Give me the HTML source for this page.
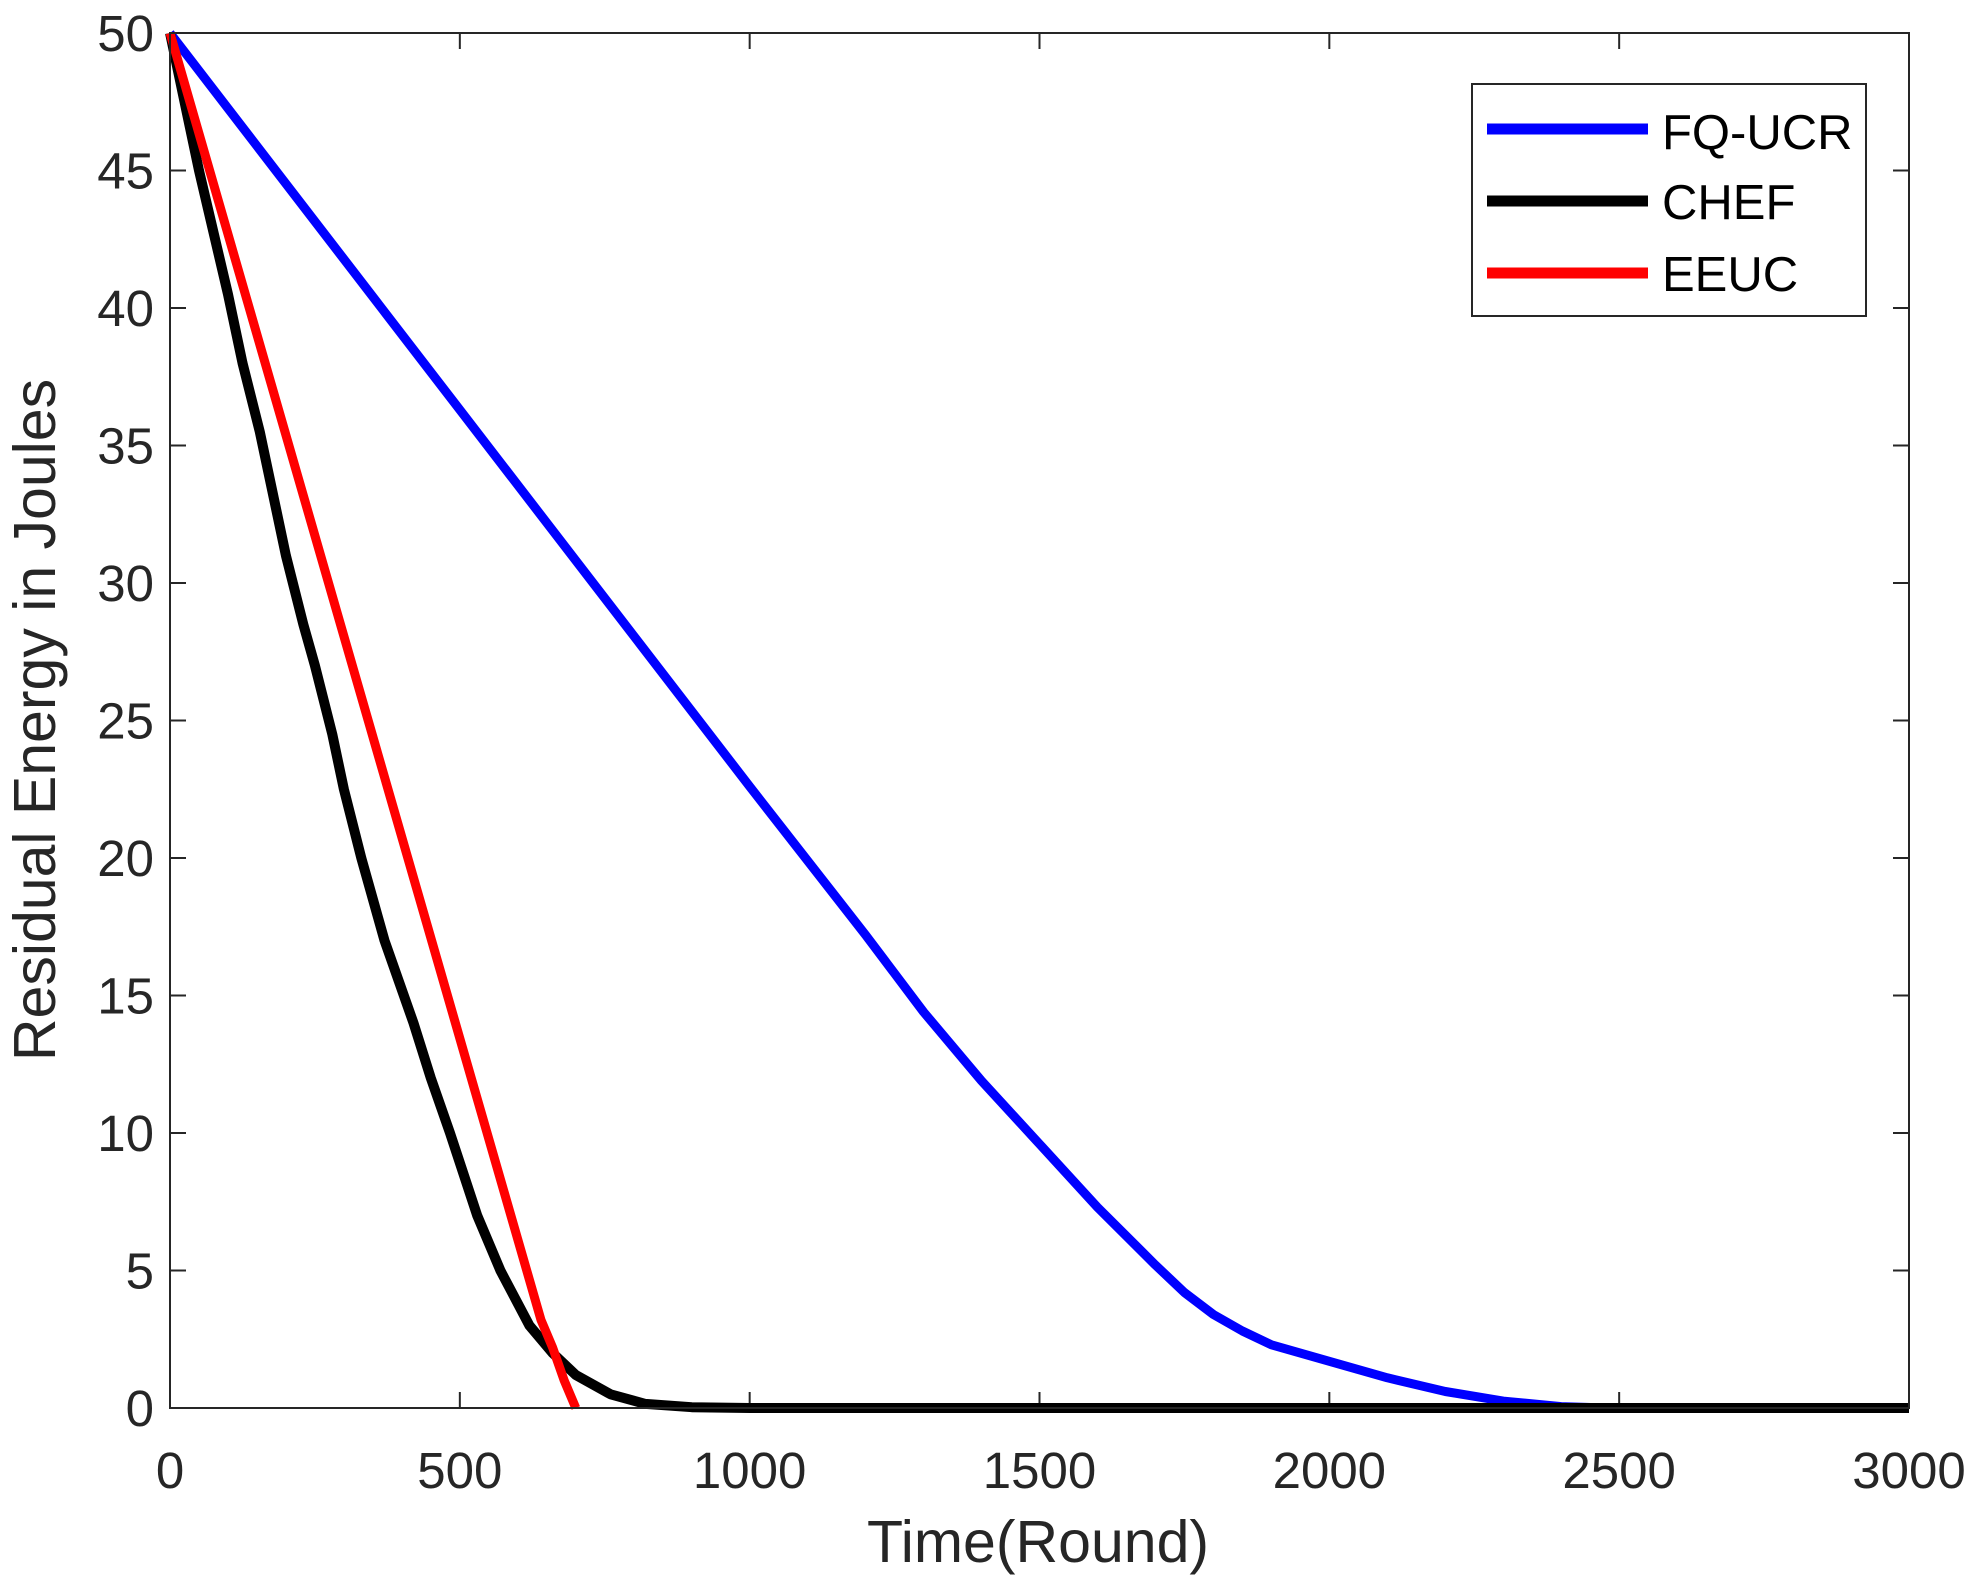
<!DOCTYPE html>
<html><head><meta charset="utf-8"><style>
html,body{margin:0;padding:0;background:#fff;}
svg{display:block;}
text{font-family:"Liberation Sans",Arial,sans-serif;fill:#262626;}
</style></head><body>
<svg width="1979" height="1584" viewBox="0 0 1979 1584" xmlns="http://www.w3.org/2000/svg">
<rect width="1979" height="1584" fill="#fff"/>
<g id="ticks" stroke="#262626" stroke-width="2"></g>
<g id="plot"></g>
<rect x="170" y="33" width="1739" height="1375" fill="none" stroke="#262626" stroke-width="2"/>
<g id="labels"></g>
<text x="1038" y="1562" font-size="59" text-anchor="middle">Time(Round)</text>
<text transform="translate(55,720) rotate(-90)" font-size="59" text-anchor="middle">Residual Energy in Joules</text>
<rect x="1472" y="84" width="394" height="232" fill="#fff" stroke="#262626" stroke-width="2"/>
<line x1="1487" y1="129" x2="1648" y2="129" stroke="#0000ff" stroke-width="11"/>
<line x1="1487" y1="201" x2="1648" y2="201" stroke="#000" stroke-width="11"/>
<line x1="1487" y1="273" x2="1648" y2="273" stroke="#ff0000" stroke-width="11"/>
<text x="1662" y="136" font-size="49" dominant-baseline="middle" style="fill:#000">FQ-UCR</text>
<text x="1662" y="206" font-size="49" dominant-baseline="middle" style="fill:#000">CHEF</text>
<text x="1662" y="278" font-size="49" dominant-baseline="middle" style="fill:#000">EEUC</text>
<script>
var L=170,R=1909,T=33,B=1408;
function X(t){return L+t/3000*(R-L);}
function Y(e){return B-e/50*(B-T);}
var ns="http://www.w3.org/2000/svg";
var tk=document.getElementById("ticks"),lb=document.getElementById("labels"),pl=document.getElementById("plot");
function el(p,n,a,txt){var e=document.createElementNS(ns,n);for(var k in a)e.setAttribute(k,a[k]);if(txt!==undefined)e.textContent=txt;p.appendChild(e);return e;}
for(var v=0;v<=50;v+=5){var y=Y(v);
el(tk,"line",{x1:L,y1:y,x2:L+16,y2:y});el(tk,"line",{x1:R,y1:y,x2:R-16,y2:y});
el(lb,"text",{x:L-16,y:y+18,"font-size":51,"text-anchor":"end"},String(v));}
for(var t=0;t<=3000;t+=500){var x=X(t);
el(tk,"line",{x1:x,y1:B,x2:x,y2:B-16});el(tk,"line",{x1:x,y1:T,x2:x,y2:T+16});
el(lb,"text",{x:x,y:1488,"font-size":51,"text-anchor":"middle"},String(t));}
function path(pts,c,w){var d="";pts.forEach(function(p,i){d+=(i?"L":"M")+X(p[0]).toFixed(1)+","+Y(p[1]).toFixed(1);});
el(pl,"path",{d:d,fill:"none",stroke:c,"stroke-width":w,"stroke-linejoin":"round","stroke-linecap":"butt"});}
path([[0,50],[500,36.3],[1000,22.6],[1200,17.2],[1300,14.4],[1400,11.9],[1500,9.6],[1600,7.3],[1700,5.2],[1750,4.2],[1800,3.4],[1850,2.8],[1900,2.3],[2000,1.7],[2100,1.1],[2200,0.6],[2300,0.25],[2400,0.05],[2480,0],[3000,0]],"#0000ff",9);
path([[0,50],[50,45],[100,40.5],[125,38],[155,35.5],[180,33],[200,31],[230,28.5],[250,27],[280,24.5],[300,22.5],[330,20],[370,17],[420,14],[450,12],[483,10],[530,7],[570,5],[620,3],[660,2],[700,1.2],[760,0.5],[820,0.15],[900,0.03],[1000,0],[3000,0]],"#000",10);
path([[0,50],[640,3.2],[660,2.2],[680,1],[700,0]],"#ff0000",9);
</script>
</svg>
</body></html>
